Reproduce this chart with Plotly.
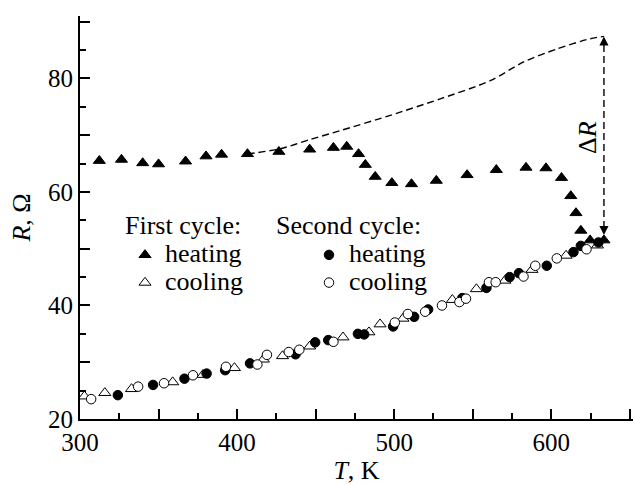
import plotly.graph_objects as go

# First cycle, heating (filled triangles)
h1_T = [312.3, 326.4, 339.9, 350.0, 367.2, 380.2, 390.1, 406.6, 426.6, 446.2, 461.3, 469.8,
        477.3, 481.6, 487.9, 498.5, 511.0, 526.8, 546.4, 565.0, 583.9, 596.6, 606.5, 612.4,
        615.7, 618.8, 624.7, 633.5]
h1_R = [65.5, 65.7, 65.1, 64.9, 65.4, 66.3, 66.6, 66.7, 67.1, 67.5, 67.8, 68.0,
        66.7, 64.8, 62.7, 61.6, 61.4, 62.0, 63.0, 63.9, 64.3, 64.2, 62.5, 59.3,
        56.3, 53.2, 51.5, 51.5]

# First cycle, cooling (open triangles)
c1_T = [302.8, 315.8, 332.8, 359.0, 378.3, 398.3, 416.7, 428.9, 446.2, 467.4, 483.9, 491.0,
        505.6, 537.0, 552.3, 570.5, 587.7, 609.4, 629.4]
c1_R = [24.0, 24.6, 25.3, 26.5, 27.8, 29.0, 30.5, 31.1, 32.8, 34.4, 35.3, 36.7,
        37.7, 41.0, 42.9, 44.4, 46.3, 48.8, 50.6]

# Second cycle, heating (filled circles)
h2_T = [324.1, 346.5, 366.5, 380.6, 392.4, 408.2, 437.2, 449.7, 458.0, 476.9, 480.9, 499.3,
        512.7, 521.6, 543.3, 558.7, 573.5, 579.4, 597.1, 614.1, 618.8, 630.0]
h2_R = [24.2, 26.0, 27.1, 28.0, 28.6, 29.8, 31.4, 33.5, 33.9, 35.0, 34.9, 36.3,
        38.0, 39.3, 41.3, 43.1, 45.0, 45.7, 47.0, 49.4, 50.5, 51.1]

# Second cycle, cooling (open circles)
c2_T = [307.1, 337.0, 353.5, 371.9, 392.9, 412.9, 419.0, 432.9, 439.6, 461.3, 500.4, 508.7,
        519.7, 530.4, 541.5, 545.7, 560.3, 564.6, 582.3, 589.8, 603.5, 622.4]
c2_R = [23.5, 25.7, 26.3, 27.7, 29.2, 29.6, 31.3, 31.8, 32.2, 33.6, 37.0, 38.5,
        38.9, 40.0, 40.6, 41.2, 44.1, 44.1, 45.1, 47.0, 48.3, 49.9]

# Dashed extrapolation curve
curve_T = [406.6, 427.4, 446.0, 465.6, 497.5, 529.3, 561.1, 582.4, 603.6, 624.8, 633.5]
curve_R = [66.7, 67.6, 69.2, 70.8, 73.5, 76.4, 79.6, 82.9, 85.2, 87.0, 87.4]

# Delta R marker (temperature, top, bottom)
dR_T = 633.5
dR_top = 87.4
dR_bottom = 52.4

x_tickvals = [300, 350, 400, 450, 500, 550, 600, 650]
x_ticktext = ["300", "", "400", "", "500", "", "600", ""]
y_tickvals = [20, 30, 40, 50, 60, 70, 80, 90]
y_ticktext = ["20", "", "40", "", "60", "", "80", ""]

SERIF = "Liberation Serif"
BIG = '<span style="font-size:26px">%s</span>'

fig = go.Figure()

fig.add_trace(go.Scatter(x=curve_T, y=curve_R, mode="lines",
                         line=dict(color="black", width=1.4, dash="7px,4px", shape="spline", smoothing=0.8),
                         showlegend=False, hoverinfo="skip"))
fig.add_trace(go.Scatter(x=[dR_T, dR_T], y=[dR_top - 1.5, dR_bottom + 1.5], mode="lines",
                         line=dict(color="black", width=1.4, dash="7px,4px"), showlegend=False, hoverinfo="skip"))

fig.add_trace(go.Scatter(x=h1_T, y=h1_R, mode="markers", name=BIG % "heating", legend="legend",
                         marker=dict(symbol="triangle-up", size=10.5, color="black", line=dict(color="black", width=1))))
fig.add_trace(go.Scatter(x=c1_T, y=c1_R, mode="markers", name=BIG % "cooling", legend="legend",
                         marker=dict(symbol="triangle-up", size=10.5, color="white", line=dict(color="black", width=1))))
fig.add_trace(go.Scatter(x=h2_T, y=h2_R, mode="markers", name=BIG % "heating", legend="legend2",
                         marker=dict(symbol="circle", size=9.5, color="black", line=dict(color="black", width=1))))
fig.add_trace(go.Scatter(x=c2_T, y=c2_R, mode="markers", name=BIG % "cooling", legend="legend2",
                         marker=dict(symbol="circle", size=9.5, color="white", line=dict(color="black", width=1))))

# arrowheads
fig.add_annotation(x=dR_T, y=dR_top, ax=dR_T, ay=dR_top - 1.6, xref="x", yref="y", axref="x", ayref="y",
                   showarrow=True, arrowhead=2, arrowsize=1.3, arrowwidth=1.4, arrowcolor="black", text="")
fig.add_annotation(x=dR_T, y=dR_bottom, ax=dR_T, ay=dR_bottom + 1.6, xref="x", yref="y", axref="x", ayref="y",
                   showarrow=True, arrowhead=2, arrowsize=1.3, arrowwidth=1.4, arrowcolor="black", text="")
fig.add_annotation(x=623, y=69.6, xref="x", yref="y", text="Δ<i>R</i>", textangle=-90, showarrow=False,
                   font=dict(family=SERIF, size=26, color="black"))

# legend group titles
fig.add_annotation(x=0.078, y=0.481, xref="paper", yref="paper", xanchor="left", yanchor="middle",
                   text="First cycle:", showarrow=False, font=dict(family=SERIF, size=26, color="black"))
fig.add_annotation(x=0.351, y=0.481, xref="paper", yref="paper", xanchor="left", yanchor="middle",
                   text="Second cycle:", showarrow=False, font=dict(family=SERIF, size=26, color="black"))

legend_common = dict(font=dict(family=SERIF, size=19, color="black"), bgcolor="rgba(0,0,0,0)",
                     xanchor="left", yanchor="top", itemsizing="trace", tracegroupgap=0, borderwidth=0)
fig.update_layout(
    width=635, height=485,
    margin=dict(l=80, r=2, t=16, b=66),
    paper_bgcolor="white", plot_bgcolor="white",
    font=dict(family=SERIF, size=25, color="black"),
    legend=dict(x=(125 - 80) / 553, y=0.454, **legend_common),
    legend2=dict(x=(309 - 80) / 553, y=0.454, **legend_common),
    xaxis=dict(range=[300, 652], showline=True, linecolor="black", linewidth=1.8, showgrid=False, zeroline=False,
               ticks="inside", ticklen=10, tickwidth=1.5, tickcolor="black",
               tickvals=x_tickvals, ticktext=x_ticktext,
               minor=dict(dtick=25, tick0=300, ticks="inside", ticklen=6, tickwidth=1.5, tickcolor="black", showgrid=False),
               tickfont=dict(family=SERIF, size=25),
               title=dict(text="<i>T</i>, K", font=dict(family=SERIF, size=26), standoff=2)),
    yaxis=dict(range=[20, 91], showline=True, linecolor="black", linewidth=1.8, showgrid=False, zeroline=False,
               ticks="inside", ticklen=10, tickwidth=1.5, tickcolor="black",
               tickvals=y_tickvals, ticktext=y_ticktext,
               minor=dict(dtick=5, tick0=20, ticks="inside", ticklen=6, tickwidth=1.5, tickcolor="black", showgrid=False),
               tickfont=dict(family=SERIF, size=25),
               title=dict(text="<i>R</i>, Ω", font=dict(family=SERIF, size=26), standoff=10)),
)

fig.write_html("out.html")
